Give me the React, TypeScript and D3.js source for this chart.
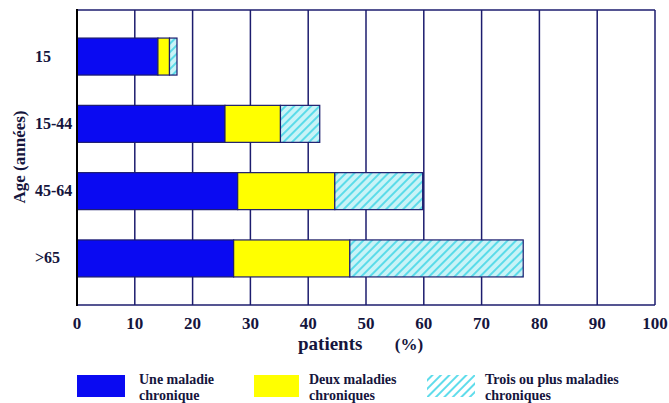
import React from "react";
import * as d3 from "d3";

const categories = ["15", "15-44", "45-64", ">65"];
const uneMaladie = [14, 25.6, 27.8, 27.1];
const deuxMaladies = [2, 9.6, 16.8, 20.1];
const troisPlus = [1.3, 6.8, 15.2, 30];
const xTicks = [0, 10, 20, 30, 40, 50, 60, 70, 80, 90, 100];
const seriesKeys = ["une", "deux", "trois"];
const legendLabels = [
  ["Une maladie", "chronique"],
  ["Deux maladies", "chroniques"],
  ["Trois ou plus maladies", "chroniques"],
];

const W = 669;
const H = 403;
const FONT = '"Liberation Serif"';
const NAVY = "#1c1c6e";
const TEXT = "#15153d";

export default function App() {
  const x = d3.scaleLinear().domain([0, 100]).range([77, 655]);
  const y = d3
    .scaleBand<string>()
    .domain(categories)
    .range([10, 305])
    .paddingInner(0.45)
    .paddingOuter(0.417);

  const rows = categories.map((c, i) => ({
    cat: c,
    une: uneMaladie[i],
    deux: deuxMaladies[i],
    trois: troisPlus[i],
  }));
  const stacked = d3.stack<any>().keys(seriesKeys)(rows);
  const fills: Record<string, string> = {
    une: "#0a0af2",
    deux: "#ffff00",
    trois: "url(#hatch)",
  };

  const legendItems = [
    { box: [77, 375, 48, 22], fill: "#0a0af2", tx: 139 },
    { box: [254, 375, 45, 22], fill: "#ffff00", tx: 309 },
    { box: [427, 375, 48, 22], fill: "url(#hatchLegend)", tx: 485 },
  ];

  const txt = { fontFamily: FONT, fontWeight: "bold", fill: TEXT };

  return (
    <svg
      width={W}
      height={H}
      style={{ position: "absolute", left: 0, top: 0, background: "#fff" }}
    >
      <defs>
        <pattern
          id="hatch"
          patternUnits="userSpaceOnUse"
          width={6}
          height={6}
          patternTransform="rotate(45)"
        >
          <rect width={6} height={6} fill="#c9f3f7" />
          <line x1={1} y1={0} x2={1} y2={6} stroke="#3fd6e6" strokeWidth={1.6} />
        </pattern>
        <pattern
          id="hatchLegend"
          patternUnits="userSpaceOnUse"
          width={6}
          height={6}
          patternTransform="rotate(45)"
        >
          <rect width={6} height={6} fill="#ffffff" />
          <line x1={1} y1={0} x2={1} y2={6} stroke="#5fdceb" strokeWidth={2} />
        </pattern>
      </defs>

      {xTicks.slice(1).map((t) => (
        <line
          key={"g" + t}
          x1={x(t)}
          x2={x(t)}
          y1={10}
          y2={305}
          stroke={NAVY}
          strokeWidth={1.5}
        />
      ))}
      <line x1={x(0)} x2={x(100)} y1={10} y2={10} stroke={NAVY} strokeWidth={1.5} />
      <line x1={x(0)} x2={x(100)} y1={305} y2={305} stroke={NAVY} strokeWidth={1.5} />

      {stacked.map((s) => (
        <g key={s.key}>
          {s.map((d, i) => (
            <rect
              key={i}
              x={x(d[0])}
              y={y(categories[i])}
              width={x(d[1]) - x(d[0])}
              height={y.bandwidth()}
              fill={fills[s.key]}
              stroke={NAVY}
              strokeWidth={1.2}
            />
          ))}
        </g>
      ))}

      <line x1={x(0)} x2={x(0)} y1={9} y2={306} stroke="#000" strokeWidth={2} />

      {xTicks.map((t) => (
        <text key={"t" + t} x={x(t)} y={329} textAnchor="middle" fontSize={17} style={txt}>
          {t}
        </text>
      ))}
      <text x={298} y={350} fontSize={19} style={txt}>
        patients
      </text>
      <text x={409} y={350} fontSize={17} textAnchor="middle" style={txt}>
        (%)
      </text>

      {categories.map((c) => (
        <text
          key={"c" + c}
          x={35}
          y={(y(c) as number) + y.bandwidth() / 2 + 5}
          fontSize={16}
          style={txt}
        >
          {c}
        </text>
      ))}

      <text
        transform="translate(25,157) rotate(-90)"
        textAnchor="middle"
        fontSize={17}
        style={txt}
      >
        Age (années)
      </text>

      {legendItems.map((l, i) => (
        <g key={"l" + i}>
          <rect x={l.box[0]} y={l.box[1]} width={l.box[2]} height={l.box[3]} fill={l.fill} />
          <text x={l.tx} y={384} fontSize={14} style={txt}>
            {legendLabels[i][0]}
          </text>
          <text x={l.tx} y={400} fontSize={14} style={txt}>
            {legendLabels[i][1]}
          </text>
        </g>
      ))}
    </svg>
  );
}
